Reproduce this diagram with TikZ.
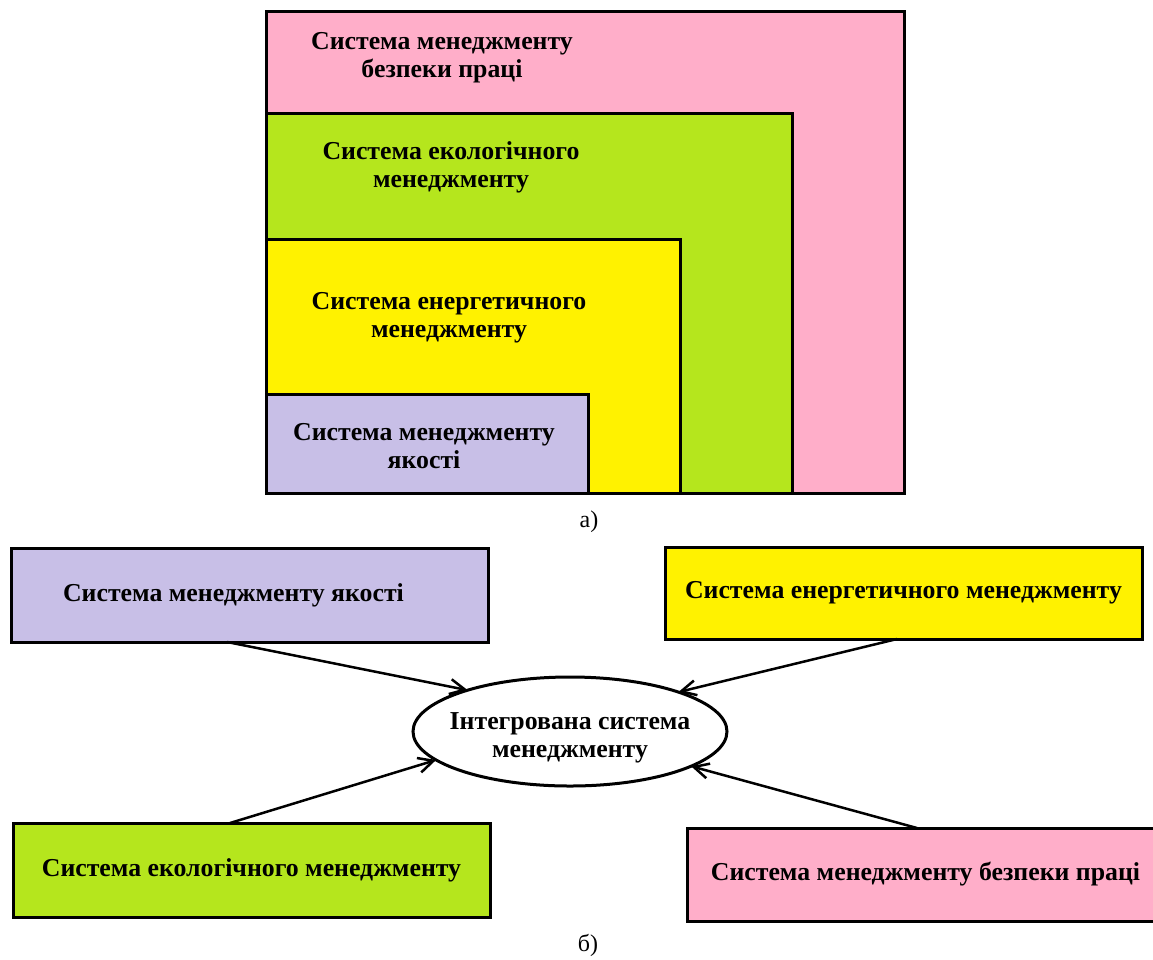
\documentclass[tikz,border=0pt]{standalone}
\usepackage{fontspec}
\setmainfont{Liberation Serif}
\usetikzlibrary{arrows.meta,shapes.geometric}
\definecolor{cpink}{HTML}{FFAEC9}
\definecolor{cgreen}{HTML}{B5E61D}
\definecolor{cyellow}{HTML}{FFF200}
\definecolor{clav}{HTML}{C8BFE7}
\begin{document}
\begin{tikzpicture}[x=1pt,y=-1pt,
  area/.style={draw=black, line width=3pt, rectangle, anchor=north west, inner sep=0pt, outer sep=0pt},
  lbl/.style={font=\bfseries\fontsize{25.8}{28}\selectfont, align=center, inner sep=0pt, text=black},
  bbox/.style={draw=black, line width=3pt, rectangle, inner sep=0pt, outer sep=0pt,
    minimum width=477pt, font=\bfseries\fontsize{25.8}{30}\selectfont, text=black},
  arr/.style={line width=2.5pt, -{Straight Barb[length=15pt,width=15pt,line width=2.5pt]}},
  figcap/.style={font=\fontsize{24}{28}\selectfont, inner sep=0pt}]
\useasboundingbox (0,0) rectangle (1153,959);
% part a
\node[area, fill=cpink,   minimum width=638pt, minimum height=482pt] (ra) at (266,11) {};
\node[area, fill=cgreen,  minimum width=526pt, minimum height=380pt] (rb) at (266,113) {};
\node[area, fill=cyellow, minimum width=414pt, minimum height=254pt] (rc) at (266,239) {};
\node[area, fill=clav,    minimum width=322pt, minimum height=99pt]  (rd) at (266,394) {};
\node[lbl] (ta) at (442,58)  {Система менеджменту\\безпеки праці};
\node[lbl] (tb) at (451,167) {Система екологічного\\менеджменту};
\node[lbl] (tc) at (449,318) {Система енергетичного\\менеджменту};
\node[lbl] (td) at (424,446) {Система менеджменту\\якості};
\node[figcap] (capa) at (589,522) {а)};
% part b
\node[bbox, fill=clav,    minimum height=94pt] (lavB) at (249.5,595) {Система менеджменту якості\hspace*{32pt}};
\node[bbox, fill=cyellow, minimum height=92pt] (yelB) at (903.5,593) {Система енергетичного менеджменту};
\node[bbox, fill=cgreen,  minimum height=94pt] (grnB) at (251.5,870) {Система екологічного менеджменту};
\node[bbox, fill=cpink,   minimum height=93pt] (pnkB) at (925.5,874.5) {Система менеджменту безпеки праці};
\node[draw=black, line width=3pt, ellipse, minimum width=314pt, minimum height=109pt, inner sep=0pt, outer sep=0pt] (isu) at (570,731.5) {};
\node[lbl] (isut) at (570,738) {Інтегрована система\\менеджменту};
\draw[arr] ([xshift=-22.5pt]lavB.south) -- (isu.158.3);
\draw[arr] ([xshift=-6.5pt]yelB.south) -- (isu.20.3);
\draw[arr] ([xshift=-21.5pt]grnB.north) -- (isu.192.6);
\draw[arr] ([xshift=-8.5pt]pnkB.north) -- (isu.344.6);
\node[figcap] (capb) at (588,945) {б)};
\end{tikzpicture}
\end{document}
